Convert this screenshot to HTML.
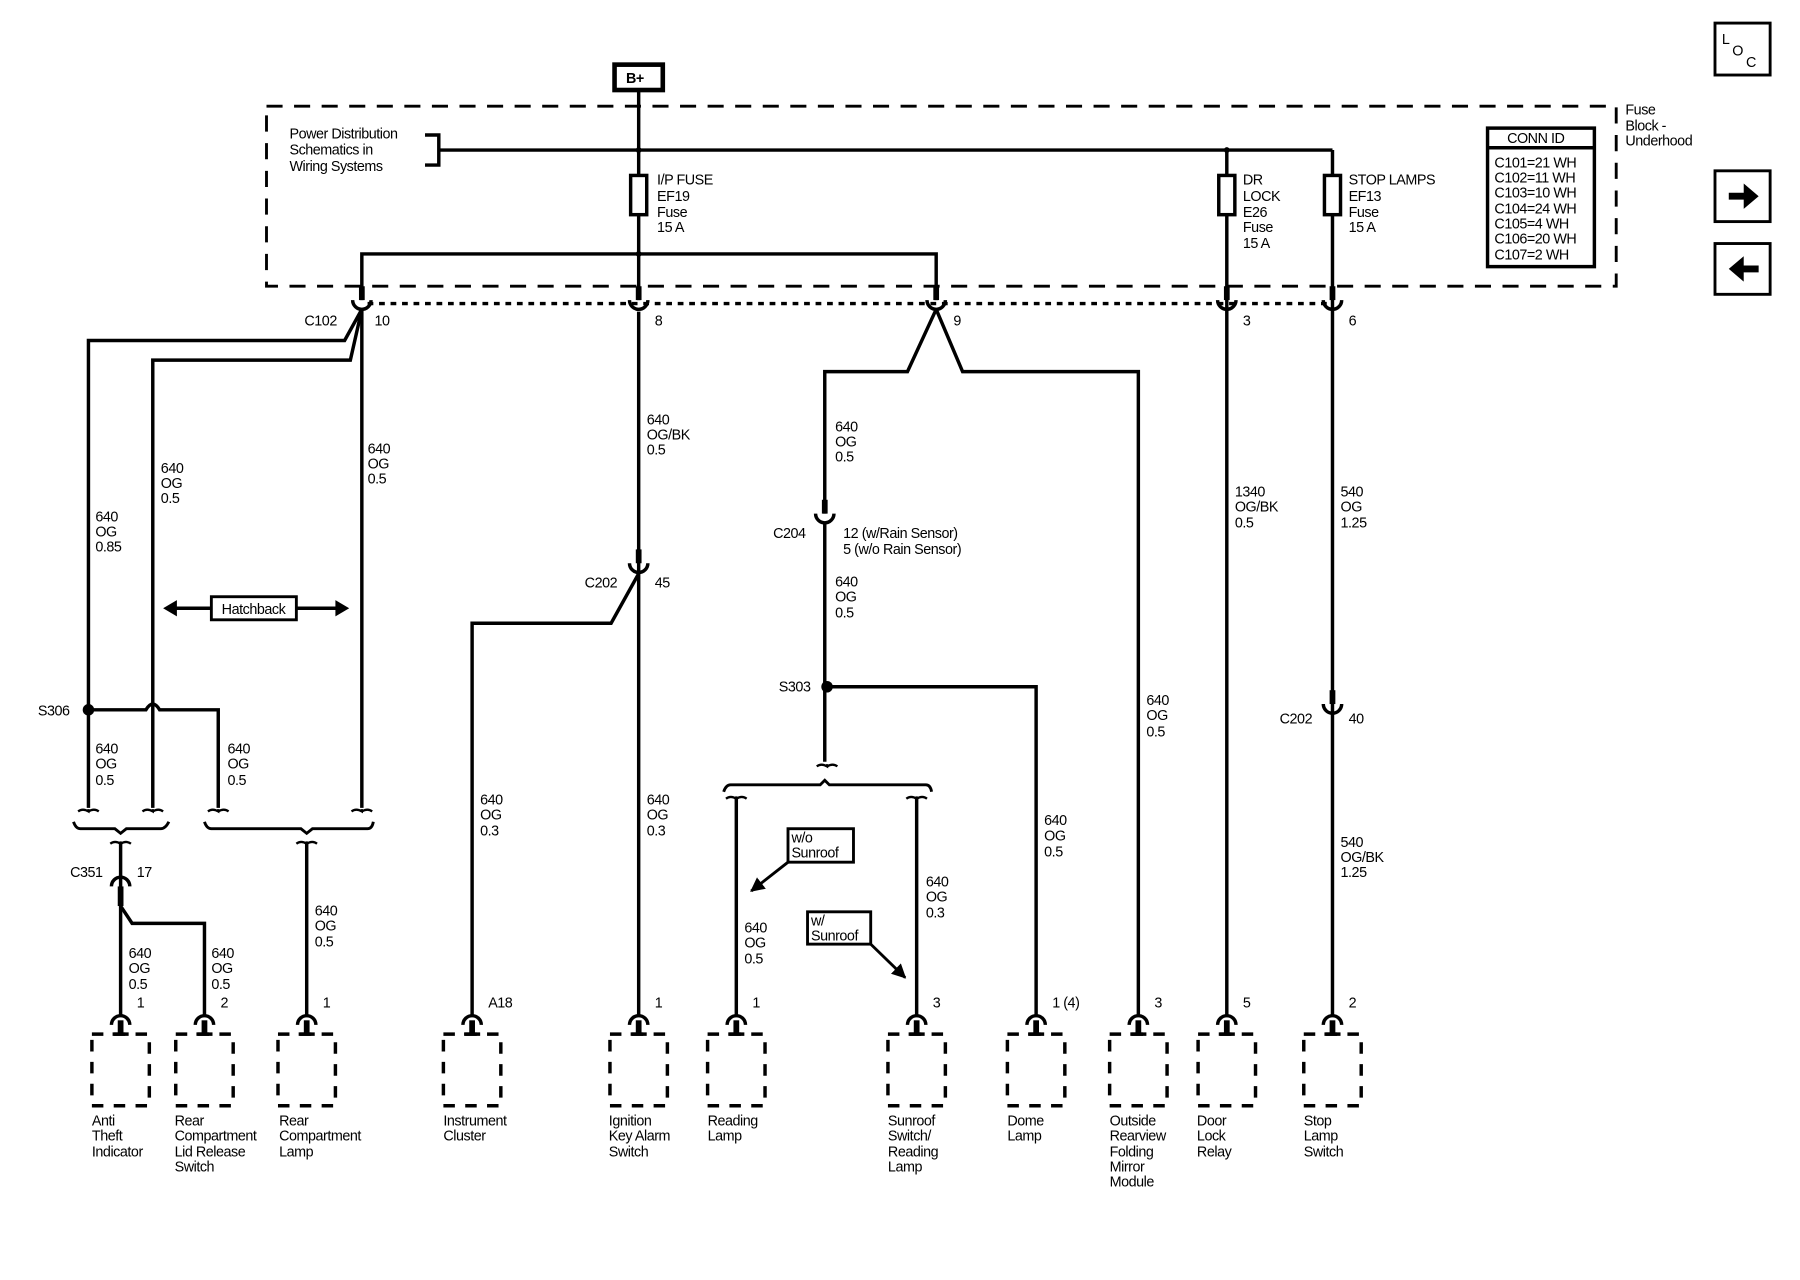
<!DOCTYPE html>
<html><head><meta charset="utf-8"><style>
html,body{margin:0;padding:0;background:#fff;}
svg{display:block}
text{font-family:"Liberation Sans",sans-serif;font-size:12.5px;fill:#000;letter-spacing:-0.4px}
</style></head><body>
<svg width="1800" height="1280" viewBox="0 0 1567 1109" preserveAspectRatio="none" xmlns="http://www.w3.org/2000/svg">
<defs>
<g id="bc" fill="none" stroke="#000">
<path d="M-8 8 A8 8 0 0 1 8 8" stroke-width="3"/>
<line x1="0" y1="4" x2="0" y2="16" stroke-width="5"/>
<line x1="-7" y1="16" x2="7" y2="16" stroke-width="3"/>
<rect x="-25" y="16" width="50" height="62" stroke-width="3" stroke-dasharray="10 9"/>
</g>
<g id="tc" fill="none" stroke="#000">
<line x1="0" y1="-12" x2="0" y2="0" stroke-width="5"/>
<path d="M-8 0 A8 8 0 0 0 8 0" stroke-width="3"/>
</g>
<g id="sm" fill="none" stroke="#000" stroke-width="2">
<path d="M-9 0 Q-5 -3 0 0 L0 -2 M0 0 Q5 -3 9 0"/>
</g>
<marker id="ah" viewBox="0 0 10 10" refX="9" refY="5" markerWidth="5" markerHeight="5" orient="auto"><path d="M0 0L10 5L0 10z"/></marker>
</defs>
<g fill="none" stroke="#000" stroke-width="3">
<rect x="535" y="56" width="42" height="22" stroke-width="4"/>
<rect x="232" y="92" width="1175" height="156" stroke-dasharray="14 10" stroke-width="2.5"/>
<line x1="320" y1="263" x2="1160" y2="263" stroke-dasharray="5 5"/>
<path d="M370 117 H382 V143 H370"/>
<line x1="382" y1="130" x2="1160" y2="130"/>
<line x1="556" y1="79" x2="556" y2="260"/>
<line x1="1068" y1="130" x2="1068" y2="880"/>
<line x1="1160" y1="130" x2="1160" y2="880"/>
<rect x="549" y="152" width="14" height="34" fill="#fff"/>
<rect x="1061" y="152" width="14" height="34" fill="#fff"/>
<rect x="1153" y="152" width="14" height="34" fill="#fff"/>
<path d="M315 260 V220 H815 V260"/>
<path d="M315 268 L300 295 H77 V700"/>
<path d="M315 268 L305 312 H133 V700"/>
<line x1="315" y1="268" x2="315" y2="700"/>
<path d="M77 615 H127 Q133 605 139 615 H190 V700"/>
<path d="M64 712 Q66 718 70 718 H100 L105 722 L110 718 H140 Q144 718 147 712" stroke-width="2.5"/>
<path d="M178 712 Q180 718 184 718 H262 L267 722 L272 718 H320 Q324 718 325 712" stroke-width="2.5"/>
<line x1="105" y1="730" x2="105" y2="880"/>
<line x1="105" y1="768" x2="105" y2="785" stroke-width="5"/>
<path d="M97 768 A8 8 0 0 1 113 768"/>
<path d="M105 785 L115 800 H178 V880"/>
<line x1="267" y1="730" x2="267" y2="880"/>
<line x1="150" y1="527" x2="183" y2="527"/>
<line x1="258" y1="527" x2="295" y2="527"/>
<rect x="184" y="517" width="74" height="20" stroke-width="2.5"/>
<line x1="556" y1="270" x2="556" y2="880"/>
<path d="M556 497 L532 540 H411 V880"/>
<path d="M815 268 L790 322 H718 V445"/>
<path d="M815 268 L838 322 H991 V880"/>
<line x1="718" y1="452" x2="718" y2="660"/>
<path d="M718 595 H902 V880"/>
<path d="M630 686 Q632 680 636 680 H714 L718 676 L722 680 H806 Q810 680 811 686" stroke-width="2.5"/>
<line x1="641" y1="692" x2="641" y2="880"/>
<line x1="798" y1="692" x2="798" y2="880"/>
<rect x="686" y="718" width="57" height="29" stroke-width="2.5"/>
<line x1="686" y1="747" x2="654" y2="772" marker-end="url(#ah)" stroke-width="2.5"/>
<rect x="703" y="790" width="55" height="28" stroke-width="2.5"/>
<line x1="758" y1="818" x2="788" y2="847" marker-end="url(#ah)" stroke-width="2.5"/>
<rect x="1295" y="111" width="93" height="120" stroke-width="3"/>
<line x1="1295" y1="128" x2="1388" y2="128"/>
<rect x="1493" y="20" width="48" height="45" stroke-width="2.5"/>
<rect x="1493" y="148" width="48" height="44" stroke-width="2.5"/>
<rect x="1493" y="211" width="48" height="44" stroke-width="2.5"/>
</g>
<path d="M142 527 L154 520 L154 534Z"/>
<path d="M304 527 L292 520 L292 534Z"/>
<path d="M1505 167 H1518 V159 L1531 170 L1518 181 V173 H1505Z"/>
<path d="M1531 230 H1518 V222 L1505 233 L1518 244 V236 H1531Z"/>
<g fill="#000">
<circle cx="556" cy="130" r="2.5"/><circle cx="1068" cy="130" r="2.5"/><circle cx="556" cy="220" r="2.5"/>
<circle cx="77" cy="615" r="5"/><circle cx="720" cy="595" r="5"/>
</g>
<use href="#tc" x="315" y="260"/><use href="#tc" x="556" y="260"/><use href="#tc" x="815" y="260"/>
<use href="#tc" x="1068" y="260"/><use href="#tc" x="1160" y="260"/>
<use href="#tc" x="556" y="488"/><use href="#tc" x="718" y="445"/><use href="#tc" x="1160" y="610"/>
<use href="#sm" x="77" y="703"/><use href="#sm" x="133" y="703"/><use href="#sm" x="190" y="703"/><use href="#sm" x="315" y="703"/>
<use href="#sm" x="105" y="731"/><use href="#sm" x="267" y="731"/><use href="#sm" x="720" y="664"/>
<use href="#sm" x="641" y="692"/><use href="#sm" x="798" y="692"/>
<use href="#bc" x="105" y="880"/><use href="#bc" x="178" y="880"/><use href="#bc" x="267" y="880"/>
<use href="#bc" x="411" y="880"/><use href="#bc" x="556" y="880"/><use href="#bc" x="641" y="880"/>
<use href="#bc" x="798" y="880"/><use href="#bc" x="902" y="880"/><use href="#bc" x="991" y="880"/>
<use href="#bc" x="1068" y="880"/><use href="#bc" x="1160" y="880"/>

<text x="545" y="72" font-weight="bold">B+</text>
<text x="252" y="120">Power Distribution</text><text x="252" y="134">Schematics in</text><text x="252" y="148">Wiring Systems</text>
<text x="572" y="160">I/P FUSE</text><text x="572" y="174">EF19</text><text x="572" y="188">Fuse</text><text x="572" y="201">15 A</text>
<text x="1082" y="160">DR</text><text x="1082" y="174">LOCK</text><text x="1082" y="188">E26</text><text x="1082" y="201">Fuse</text><text x="1082" y="215">15 A</text>
<text x="1174" y="160">STOP LAMPS</text><text x="1174" y="174">EF13</text><text x="1174" y="188">Fuse</text><text x="1174" y="201">15 A</text>
<text x="1415" y="99">Fuse</text><text x="1415" y="113">Block -</text><text x="1415" y="126">Underhood</text>
<text x="1312" y="124">CONN ID</text>
<text x="1301" y="145">C101=21 WH</text><text x="1301" y="158">C102=11 WH</text><text x="1301" y="171">C103=10 WH</text><text x="1301" y="185">C104=24 WH</text><text x="1301" y="198">C105=4 WH</text><text x="1301" y="211">C106=20 WH</text><text x="1301" y="225">C107=2 WH</text>
<text x="1499" y="38">L</text><text x="1508" y="48">O</text><text x="1520" y="58" font-size="11">C</text>
<text x="265" y="282">C102</text><text x="326" y="282">10</text><text x="570" y="282">8</text><text x="830" y="282">9</text><text x="1082" y="282">3</text><text x="1174" y="282">6</text>
<text x="83" y="452">640</text><text x="83" y="465">OG</text><text x="83" y="478">0.85</text>
<text x="140" y="410">640</text><text x="140" y="423">OG</text><text x="140" y="436">0.5</text>
<text x="320" y="393">640</text><text x="320" y="406">OG</text><text x="320" y="419">0.5</text>
<text x="563" y="368">640</text><text x="563" y="381">OG/BK</text><text x="563" y="394">0.5</text>
<text x="727" y="374">640</text><text x="727" y="387">OG</text><text x="727" y="400">0.5</text>
<text x="673" y="466">C204</text><text x="734" y="466">12 (w/Rain Sensor)</text><text x="734" y="480">5 (w/o Rain Sensor)</text>
<text x="727" y="508">640</text><text x="727" y="521">OG</text><text x="727" y="535">0.5</text>
<text x="1075" y="430">1340</text><text x="1075" y="443">OG/BK</text><text x="1075" y="457">0.5</text>
<text x="1167" y="430">540</text><text x="1167" y="443">OG</text><text x="1167" y="457">1.25</text>
<text x="193" y="532">Hatchback</text>
<text x="509" y="509">C202</text><text x="570" y="509">45</text>
<text x="33" y="620">S306</text><text x="678" y="599">S303</text>
<text x="83" y="653">640</text><text x="83" y="666">OG</text><text x="83" y="680">0.5</text>
<text x="198" y="653">640</text><text x="198" y="666">OG</text><text x="198" y="680">0.5</text>
<text x="998" y="611">640</text><text x="998" y="624">OG</text><text x="998" y="638">0.5</text>
<text x="1114" y="627">C202</text><text x="1174" y="627">40</text>
<text x="418" y="697">640</text><text x="418" y="710">OG</text><text x="418" y="724">0.3</text>
<text x="563" y="697">640</text><text x="563" y="710">OG</text><text x="563" y="724">0.3</text>
<text x="909" y="715">640</text><text x="909" y="728">OG</text><text x="909" y="742">0.5</text>
<text x="1167" y="734">540</text><text x="1167" y="747">OG/BK</text><text x="1167" y="760">1.25</text>
<text x="689" y="730">w/o</text><text x="689" y="743">Sunroof</text>
<text x="706" y="802">w/</text><text x="706" y="815">Sunroof</text>
<text x="61" y="760">C351</text><text x="119" y="760">17</text>
<text x="274" y="793">640</text><text x="274" y="806">OG</text><text x="274" y="820">0.5</text>
<text x="806" y="768">640</text><text x="806" y="781">OG</text><text x="806" y="795">0.3</text>
<text x="648" y="808">640</text><text x="648" y="821">OG</text><text x="648" y="835">0.5</text>
<text x="112" y="830">640</text><text x="112" y="843">OG</text><text x="112" y="857">0.5</text>
<text x="184" y="830">640</text><text x="184" y="843">OG</text><text x="184" y="857">0.5</text>
<text x="119" y="873">1</text><text x="192" y="873">2</text><text x="281" y="873">1</text><text x="425" y="873">A18</text><text x="570" y="873">1</text><text x="655" y="873">1</text><text x="812" y="873">3</text><text x="916" y="873">1 (4)</text><text x="1005" y="873">3</text><text x="1082" y="873">5</text><text x="1174" y="873">2</text>
<text x="80" y="975">Anti</text><text x="80" y="988">Theft</text><text x="80" y="1002">Indicator</text>
<text x="152" y="975">Rear</text><text x="152" y="988">Compartment</text><text x="152" y="1002">Lid Release</text><text x="152" y="1015">Switch</text>
<text x="243" y="975">Rear</text><text x="243" y="988">Compartment</text><text x="243" y="1002">Lamp</text>
<text x="386" y="975">Instrument</text><text x="386" y="988">Cluster</text>
<text x="530" y="975">Ignition</text><text x="530" y="988">Key Alarm</text><text x="530" y="1002">Switch</text>
<text x="616" y="975">Reading</text><text x="616" y="988">Lamp</text>
<text x="773" y="975">Sunroof</text><text x="773" y="988">Switch/</text><text x="773" y="1002">Reading</text><text x="773" y="1015">Lamp</text>
<text x="877" y="975">Dome</text><text x="877" y="988">Lamp</text>
<text x="966" y="975">Outside</text><text x="966" y="988">Rearview</text><text x="966" y="1002">Folding</text><text x="966" y="1015">Mirror</text><text x="966" y="1028">Module</text>
<text x="1042" y="975">Door</text><text x="1042" y="988">Lock</text><text x="1042" y="1002">Relay</text>
<text x="1135" y="975">Stop</text><text x="1135" y="988">Lamp</text><text x="1135" y="1002">Switch</text>
</svg>
</body></html>
